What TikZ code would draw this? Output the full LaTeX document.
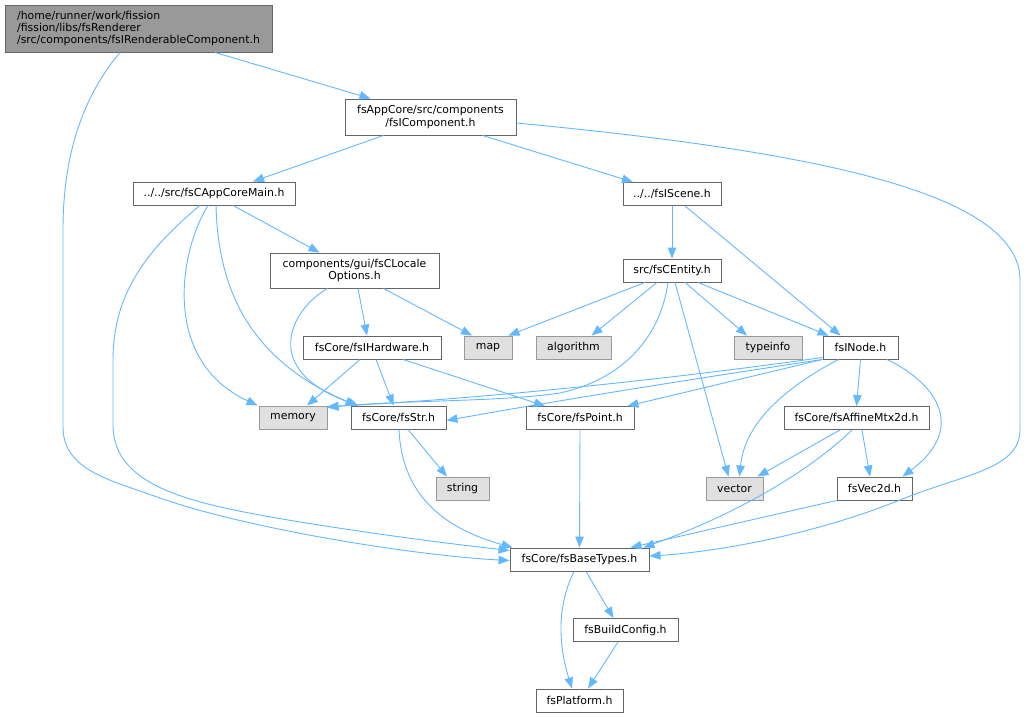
\documentclass[tikz,border=0pt]{standalone}
\usepackage{fontspec}
\setmainfont{DejaVu Sans}
\usetikzlibrary{arrows.meta}
\definecolor{edgeblue}{HTML}{63B8FF}
\definecolor{rootfill}{HTML}{999999}
\definecolor{extfill}{HTML}{E0E0E0}

\begin{document}
\begin{tikzpicture}[x=1pt, y=-1pt,
    file/.style = {draw=black!60, line width=0.9pt, fill=white, inner sep=0pt, minimum height=23pt, align=center, font=\fontsize{10.9}{12.2}\selectfont},
    ext/.style = {file, draw=black!40, fill=extfill},
    top/.style = {file, fill=rootfill, draw=black!60, align=left},
    edge/.style = {draw=edgeblue, line width=0.9pt, -{Triangle[length=11pt, width=8.5pt]}}]
    \useasboundingbox (0,0) rectangle (1027,717);

    % the header and what it pulls in
    \node[top, minimum width=267pt, minimum height=47pt] (root) at (138.5,28.5) {/home/runner/work/fission\\/fission/libs/fsRenderer\\/src/components/fsIRenderableComponent.h};
    \node[file, minimum width=171pt, minimum height=36pt] (comp) at (430.5,117) {fsAppCore/src/components\\/fsIComponent.h};
    \node[file, minimum width=162pt] (main) at (214,193.5) {../../src/fsCAppCoreMain.h};
    \node[file, minimum width=98pt] (scene) at (672,194) {../../fsIScene.h};
    \node[file, minimum width=169pt, minimum height=35pt] (locale) at (354.5,270.5) {components/gui/fsCLocale\\Options.h};
    \node[file, minimum width=98pt] (entity) at (672,270.5) {src/fsCEntity.h};
    \node[file, minimum width=138pt] (hw) at (372,347.5) {fsCore/fsIHardware.h};
    \node[ext, minimum width=48pt] (map) at (488,347.5) {map};
    \node[ext, minimum width=75pt] (algo) at (573.5,347.5) {algorithm};
    \node[ext, minimum width=68pt] (tinfo) at (768,347.5) {typeinfo};
    \node[file, minimum width=75pt] (inode) at (860.5,347.5) {fsINode.h};
    \node[ext, minimum width=68pt] (memory) at (293,417.5) {memory};
    \node[file, minimum width=95pt] (fsstr) at (398.5,417.5) {fsCore/fsStr.h};
    \node[file, minimum width=108pt] (point) at (580,418) {fsCore/fsPoint.h};
    \node[file, minimum width=145pt] (affine) at (856.5,418) {fsCore/fsAffineMtx2d.h};
    \node[ext, minimum width=53pt] (string) at (462.5,488.5) {string};
    \node[ext, minimum width=57pt] (vector) at (734.5,488.5) {vector};
    \node[file, minimum width=75pt] (vec2d) at (874.5,488.5) {fsVec2d.h};
    \node[file, minimum width=139pt] (base) at (579.5,559.5) {fsCore/fsBaseTypes.h};
    \node[file, minimum width=105pt] (build) at (625.5,630) {fsBuildConfig.h};
    \node[file, minimum width=87pt] (platform) at (579.5,700.5) {fsPlatform.h};

    % includes
    \draw[edge] ([xshift=76.5]root.south) -- ([xshift=-60]comp.north);
    \draw[edge] ([xshift=-18.5]root.south) .. controls (80,100) and (63,160) .. (63,230) -- (63,427) .. controls (63,470) and (110,480) .. (157,497) .. controls (250,530) and (420,556) .. ([yshift=-1]base.west);
    \draw[edge] ([xshift=-47]comp.south) -- ([xshift=39]main.north);
    \draw[edge] ([xshift=52]comp.south) -- ([xshift=-39]scene.north);
    \draw[edge] ([yshift=-6]comp.east) .. controls (800,150) and (1020,190) .. (1020,280) -- (1020,430) .. controls (1020,470) and (960,475) .. (900,500) .. controls (800,540) and (700,553) .. ([yshift=3.5]base.east);

    \draw[edge] ([xshift=19]main.south) -- ([xshift=-35]locale.north);
    \draw[edge] ([xshift=-6]main.south) .. controls (180,250) and (160,360) .. ([xshift=-1]memory.north west);
    \draw[edge] ([xshift=2]main.south) .. controls (218,290) and (250,360) .. ([xshift=-42]fsstr.north);
    \draw[edge] ([xshift=-14]main.south) .. controls (140,255) and (113,300) .. (113,360) -- (113,425) .. controls (113,490) and (200,505) .. (300,522) .. controls (400,538) and (470,546) .. ([yshift=9]base.west);

    \draw[edge] (scene.south) -- (entity.north);
    \draw[edge] ([xshift=13]scene.south) -- ([xshift=-20]inode.north);

    \draw[edge] ([xshift=3.5]locale.south) -- ([xshift=-5]hw.north);
    \draw[edge] ([xshift=29]locale.south) -- ([xshift=-16]map.north);
    \draw[edge] ([xshift=-27]locale.south) .. controls (290,310) and (260,370) .. ([xshift=-40]fsstr.north);

    \draw[edge] ([xshift=-12]hw.south) -- ([xshift=14]memory.north);
    \draw[edge] ([xshift=4]hw.south) -- ([xshift=-5]fsstr.north);
    \draw[edge] ([xshift=31]hw.south) -- ([xshift=-35]point.north);

    \draw[edge] ([xshift=-27]entity.south) -- ([xshift=-4]map.north east);
    \draw[edge] ([xshift=-15]entity.south) -- ([xshift=18]algo.north);
    \draw[edge] ([xshift=-4]entity.south) .. controls (660,340) and (620,380) .. (560,393) .. controls (500,402) and (400,400) .. ([yshift=-2]memory.north east);
    \draw[edge] ([xshift=3]entity.south) -- ([xshift=-6]vector.north);
    \draw[edge] ([xshift=13]entity.south) -- ([xshift=-21]tinfo.north);
    \draw[edge] ([xshift=26]entity.south) -- ([xshift=-32]inode.north);

    \draw[edge] ([yshift=2]inode.south west) .. controls (700,375) and (500,398) .. ([yshift=-1]memory.north east);
    \draw[edge] (inode.south west) .. controls (700,378) and (560,400) .. ([yshift=-3]fsstr.east);
    \draw[edge] (inode.south west) -- ([xshift=-7]point.north east);
    \draw[edge] ([xshift=-22]inode.south) .. controls (790,385) and (745,420) .. ([xshift=5]vector.north);
    \draw[edge] (inode.south) -- (affine.north);
    \draw[edge] ([xshift=26.5]inode.south) .. controls (940,385) and (965,430) .. ([xshift=-10]vec2d.north east);

    \draw[edge] ([xshift=-16.5]affine.south) -- ([xshift=-6]vector.north east);
    \draw[edge] ([xshift=5.5]affine.south) -- ([xshift=-4.5]vec2d.north);
    \draw[edge] ([xshift=-4.5]affine.south) .. controls (800,480) and (720,520) .. ([xshift=-6]base.north east);
    \draw[edge] (vec2d.south west) -- ([xshift=-19]base.north east);

    \draw[edge] ([xshift=9.5]fsstr.south) -- ([xshift=-15.5]string.north);
    \draw[edge] ([xshift=0.5]fsstr.south) .. controls (402,500) and (450,530) .. ([xshift=3]base.north west);
    \draw[edge] (point.south) -- (base.north);

    \draw[edge] ([xshift=6.5]base.south) -- ([xshift=-12]build.north);
    \draw[edge] ([xshift=-5.5]base.south) .. controls (555,610) and (560,650) .. ([xshift=-7.5]platform.north);
    \draw[edge] ([xshift=-7.5]build.south) -- ([xshift=8.5]platform.north);
\end{tikzpicture}
\end{document}
